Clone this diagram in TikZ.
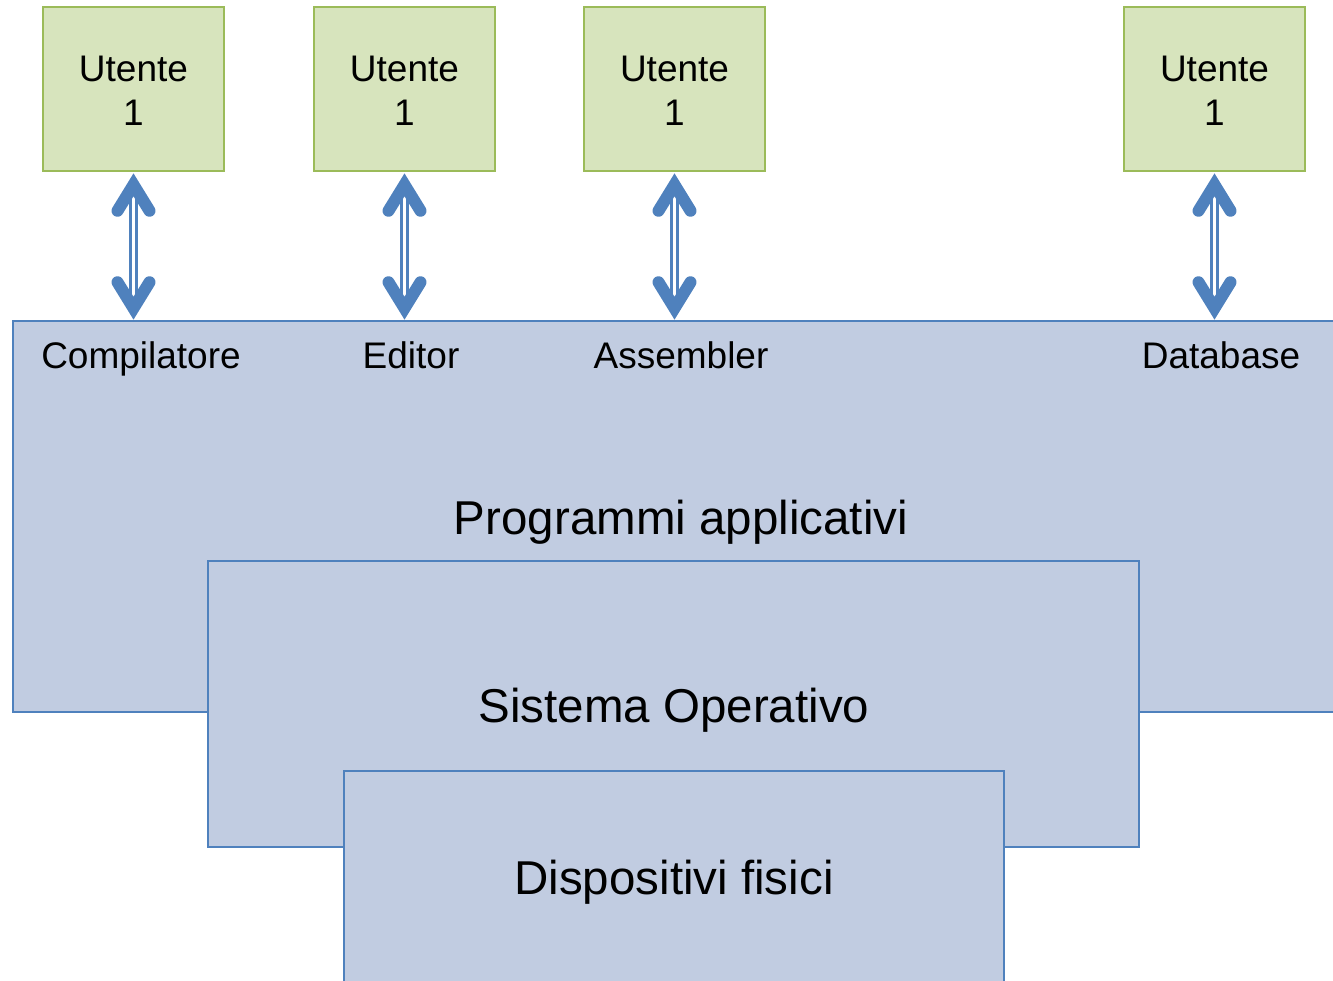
\documentclass[tikz,border=0pt]{standalone}
\usepackage{fontspec}
\setmainfont{Liberation Sans}
\definecolor{gfill}{RGB}{215,228,189}
\definecolor{gline}{RGB}{155,187,89}
\definecolor{bfill}{RGB}{193,204,225}
\definecolor{bline}{RGB}{79,129,189}
\tikzset{
 userbox/.style={draw=gline, fill=gfill, line width=2.2pt, minimum width=181pt, minimum height=164pt, inner sep=0pt, outer sep=0pt, anchor=north west},
 layer/.style={draw=bline, fill=bfill, line width=2.5pt, inner sep=0pt, outer sep=0pt, anchor=north west},
 small/.style={font=\fontsize{37}{44}\selectfont, anchor=base, inner sep=0pt},
 big/.style={font=\fontsize{47.5}{56}\selectfont, anchor=base, inner sep=0pt},
 shaft/.style={draw=bline, line width=3pt, double=white, double distance=3pt},
 chev/.style={draw=bline, line width=12pt, line cap=round, line join=miter},
}
\begin{document}
\begin{tikzpicture}[x=1pt,y=-1pt]
\clip (0,0) rectangle (1333,980);
% layers
\node[layer, minimum width=1340pt, minimum height=391pt] (prog) at (13,321) {};
\node[layer, minimum width=931pt, minimum height=286pt] (so) at (208,561) {};
\node[layer, minimum width=660pt, minimum height=260pt] (hw) at (344,771) {};
% user boxes
\node[userbox] (u1) at (43,7) {};
\node[userbox] (u2) at (314,7) {};
\node[userbox] (u3) at (584,7) {};
\node[userbox] (u4) at (1124,7) {};
\foreach \i in {1,2,3,4}{
  \node[small] (ua\i) at ([shift={(0,74)}]u\i.north) {Utente};
  \node[small] (ub\i) at ([shift={(0,118)}]u\i.north) {1};
}
% labels
\node[small] (lc) at (141,368) {Compilatore};
\node[small] (le) at (411,368) {Editor};
\node[small] (la) at (681,368) {Assembler};
\node[small] (ld) at (1221,368) {Database};
\node[big] (tprog) at (681,534) {Programmi applicativi};
\node[big] (tso) at (674,722.5) {Sistema Operativo};
\node[big] (thw) at (674,894) {Dispositivi fisici};
% arrows
\foreach \i in {1,2,3,4}{
  \coordinate (t\i) at (u\i.south);
  \coordinate (b\i) at (u\i.south |- prog.north);
  \draw[shaft] ([shift={(0,18)}]t\i) -- ([shift={(0,-18)}]b\i);
  \draw[chev] ([shift={(-16,39.8)}]t\i) -- ([shift={(0,13.8)}]t\i) -- ([shift={(16,39.8)}]t\i);
  \draw[chev] ([shift={(-16,-38.8)}]b\i) -- ([shift={(0,-12.8)}]b\i) -- ([shift={(16,-38.8)}]b\i);
}
\end{tikzpicture}
\end{document}
